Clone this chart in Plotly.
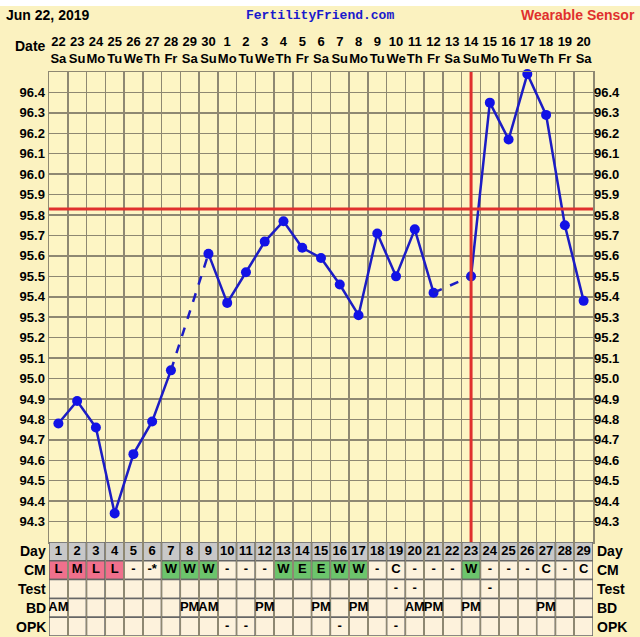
import plotly.graph_objects as go

# ---------------- data ----------------
days = list(range(1, 30))
dates = [22, 23, 24, 25, 26, 27, 28, 29, 30, 1, 2, 3, 4, 5, 6, 7, 8, 9, 10, 11, 12, 13, 14, 15, 16, 17, 18, 19, 20]
weekdays = ["Sa", "Su", "Mo", "Tu", "We", "Th", "Fr", "Sa", "Su", "Mo", "Tu", "We", "Th", "Fr",
            "Sa", "Su", "Mo", "Tu", "We", "Th", "Fr", "Sa", "Su", "Mo", "Tu", "We", "Th", "Fr", "Sa"]
temps = [94.78, 94.89, 94.76, 94.34, 94.63, 94.79, 95.04, None, 95.61, 95.37, 95.52, 95.67, 95.77,
         95.64, 95.59, 95.46, 95.31, 95.71, 95.50, 95.73, 95.42, None, 95.50, 96.35, 96.17, 96.49,
         96.29, 95.75, 95.38]
coverline = 95.83
ovulation_day = 23
cm = ["L", "M", "L", "L", "-", "-*", "W", "W", "W", "-", "-", "-", "W", "E", "E", "W", "W", "-",
      "C", "-", "-", "-", "W", "-", "-", "-", "C", "-", "C"]
test = [""] * 18 + ["-", "-", "", "", "", "-", "", "", "", "", ""]
bd = ["AM", "", "", "", "", "", "", "PM", "AM", "", "", "PM", "", "", "PM", "", "PM", "", "",
      "AM", "PM", "", "PM", "", "", "", "PM", "", ""]
opk = [""] * 9 + ["-", "-", "", "", "", "", "-", "", "", "-", "", "", "", "", "", "", "", "", "", ""]
row_names = ["Day", "CM", "Test", "BD", "OPK"]
temp_ticks = [round(94.3 + 0.1 * i, 1) for i in range(22)]

# ---------------- styling ----------------
W, H = 640, 637
FONT = "Liberation Sans"
PAPER = "#FBF2C0"
PLOTBG = "#FDF5C4"
GRID = "#8E8872"
BLUE_LINE = "#1C1CC4"
BLUE_MK = "#1212E6"
RED = "#E0302E"
CREAM = "#FDF2DC"
GRAY = "#C8C8C8"
PINK = "#F0708C"
GREEN = "#6CC46C"
BORDER = "#666666"

def px_x(p):
    return p / W

def px_y(p):
    return 1 - p / H

fig = go.Figure()

# solid segments
fig.add_trace(go.Scatter(x=days, y=temps, mode="lines+markers", connectgaps=False,
                         line=dict(color=BLUE_LINE, width=2.5), cliponaxis=False,
                         marker=dict(color=BLUE_MK, size=10), hoverinfo="skip",
                         showlegend=False))
# dashed across missing days
gx, gy = [], []
for i, t in enumerate(temps):
    if t is None:
        a = i - 1
        while a >= 0 and temps[a] is None:
            a -= 1
        b = i + 1
        while b < len(temps) and temps[b] is None:
            b += 1
        if a >= 0 and b < len(temps):
            gx += [days[a], days[b], None]
            gy += [temps[a], temps[b], None]
fig.add_trace(go.Scatter(x=gx, y=gy, mode="lines",
                         line=dict(color=BLUE_LINE, width=2.5, dash="dash"),
                         hoverinfo="skip", showlegend=False))
# invisible trace for right axis
fig.add_trace(go.Scatter(x=[days[0]], y=[temp_ticks[0]], yaxis="y3", mode="markers",
                         marker=dict(opacity=0), showlegend=False, hoverinfo="skip"))

shapes = []
# top white band
shapes.append(dict(type="rect", xref="paper", yref="paper", x0=0, x1=1, y0=px_y(6), y1=1,
                   fillcolor="white", line=dict(width=0), layer="below"))
# coverline
shapes.append(dict(type="line", xref="x", yref="y", x0=0.5, x1=29.5, y0=coverline, y1=coverline,
                   line=dict(color=RED, width=3)))
# ovulation line
shapes.append(dict(type="line", xref="x", yref="y", x0=ovulation_day, x1=ovulation_day,
                   y0=94.2, y1=96.5, line=dict(color=RED, width=3)))

# table cells
rows = [[str(d) for d in days], cm, test, bd, opk]
texts_x, texts_y, texts_t = [], [], []
for r, vals in enumerate(rows):
    for i, v in enumerate(vals):
        if r == 0:
            fill = GRAY
        elif r == 1 and v in ("L", "M"):
            fill = PINK
        elif r == 1 and v in ("W", "E"):
            fill = GREEN
        else:
            fill = CREAM
        shapes.append(dict(type="rect", xref="x", yref="y2", x0=days[i] - 0.5, x1=days[i] + 0.5,
                           y0=r, y1=r + 1, fillcolor=fill, line=dict(color=BORDER, width=1.5),
                           layer="below"))
        if v:
            texts_x.append(days[i])
            texts_y.append(r + 0.5)
            texts_t.append("<b>%s</b>" % v)

fig.add_trace(go.Scatter(x=texts_x, y=texts_y, yaxis="y2", mode="text", text=texts_t,
                         textfont=dict(family=FONT, size=13, color="black"),
                         hoverinfo="skip", showlegend=False))

annotations = []
for r, name in enumerate(row_names):
    annotations.append(dict(xref="paper", yref="y2", x=px_x(48), y=r + 0.5, text="<b>%s</b>" % name,
                            xanchor="right", yanchor="middle", showarrow=False,
                            font=dict(family=FONT, size=14, color="black")))
    annotations.append(dict(xref="paper", yref="y2", x=px_x(595), y=r + 0.5, text="<b>%s</b>" % name,
                            xanchor="left", yanchor="middle", showarrow=False,
                            font=dict(family=FONT, size=14, color="black")))
annotations.append(dict(xref="paper", yref="paper", x=px_x(48), y=px_y(46), text="<b>Date</b>",
                        xanchor="right", yanchor="middle", showarrow=False,
                        font=dict(family=FONT, size=14, color="black")))
annotations.append(dict(xref="paper", yref="paper", x=px_x(4), y=px_y(15), text="<b>Jun 22, 2019</b>",
                        xanchor="left", yanchor="middle", showarrow=False,
                        font=dict(family=FONT, size=14, color="black")))
annotations.append(dict(xref="paper", yref="paper", x=px_x(320), y=px_y(15), text="<b>FertilityFriend.com</b>",
                        xanchor="center", yanchor="middle", showarrow=False,
                        font=dict(family="Liberation Mono", size=13, color="#1A1ACC")))
annotations.append(dict(xref="paper", yref="paper", x=px_x(637), y=px_y(15), text="<b>Wearable Sensor</b>",
                        xanchor="right", yanchor="middle", showarrow=False,
                        font=dict(family=FONT, size=14, color=RED)))

tick_font = dict(family=FONT, size=13, color="black", weight="bold")
fig.update_layout(
    width=W, height=H, margin=dict(l=0, r=0, t=0, b=0),
    paper_bgcolor=PAPER, plot_bgcolor=PLOTBG,
    shapes=shapes, annotations=annotations,
    xaxis=dict(domain=[px_x(49), px_x(593)], range=[0.5, 29.5], side="top",
               tickmode="array", tickvals=days, tickangle=0,
               ticktext=["%d<br>%s" % (d, w) for d, w in zip(dates, weekdays)],
               tickfont=dict(family=FONT, size=13, color="black", weight="bold"),
               showgrid=False, zeroline=False, ticks="", anchor="y", ticklabelstandoff=2,
               minor=dict(tick0=0.5, dtick=1, showgrid=True, gridcolor=GRID, gridwidth=1.5, ticks=""),
               showline=True, mirror=True, linecolor=GRID, linewidth=1.5, fixedrange=True),
    yaxis=dict(domain=[px_y(542), px_y(72)], range=[94.2, 96.5], tickmode="array",
               tickvals=temp_ticks, ticktext=["%.1f" % t for t in temp_ticks],
               tickfont=tick_font, showgrid=True, gridcolor=GRID, gridwidth=1.5,
               zeroline=False, ticks="", showline=True, mirror=True, linecolor=GRID,
               linewidth=1.5, anchor="x"),
    yaxis3=dict(overlaying="y", side="right", range=[94.2, 96.5], tickmode="array",
                tickvals=temp_ticks, ticktext=["%.1f" % t for t in temp_ticks],
                tickfont=tick_font, showgrid=False, zeroline=False, ticks="", anchor="x"),
    yaxis2=dict(domain=[px_y(636), px_y(542)], range=[5, 0], visible=False, anchor="x",
                showgrid=False, zeroline=False),
)

fig.write_html("out.html", config={"displayModeBar": False, "staticPlot": True},
               post_script="document.body.style.margin='0';document.body.style.padding='0';"
                           "document.documentElement.style.overflow='hidden';")
